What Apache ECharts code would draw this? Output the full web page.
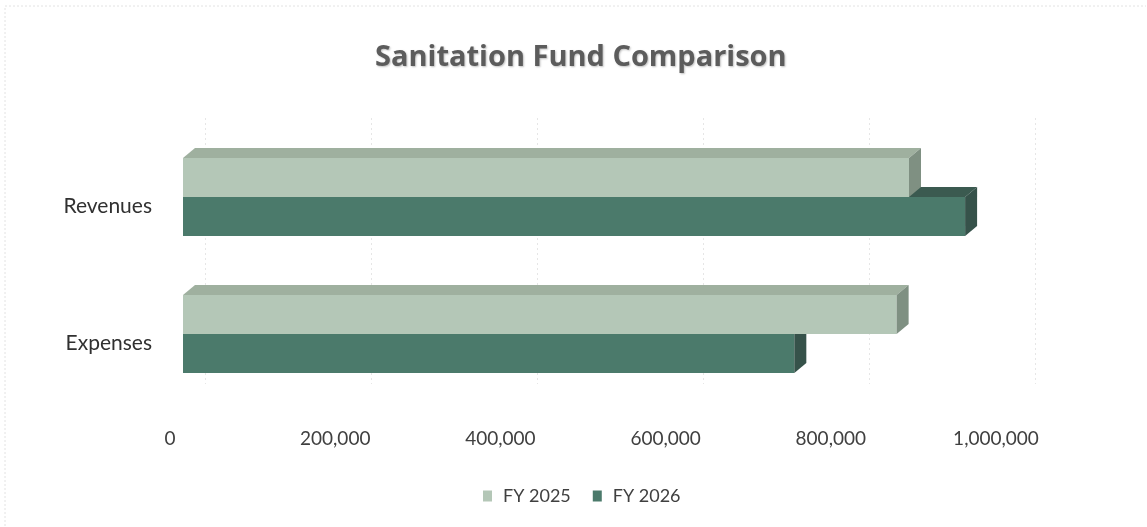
<!DOCTYPE html>
<html>
<head>
<meta charset="utf-8">
<script src="https://cdn.jsdelivr.net/npm/echarts@6/dist/echarts.min.js"></script>
<style>
html,body{margin:0;padding:0;background:#fff;}
#chart{width:1147px;height:527px;}
</style>
</head>
<body>
<div id="chart"></div>
<script>
// ---- data ----
const categories = ['Revenues', 'Expenses'];
const seriesNames = ['FY 2025', 'FY 2026'];
const fy2025 = [880000, 865000];
const fy2026 = [948000, 741000];
const tickValues = [0, 200000, 400000, 600000, 800000, 1000000];

// ---- styling ----
const FONT = 'Lato, "Open Sans", sans-serif';
const DX = 12, DY = -10;          // 3D depth offset (px)
const BAR_FRAC = 0.285;           // bar thickness relative to category band
const colors = {
  'FY 2025': { front: '#b4c7b7', top: '#9fb09f', side: '#7f9082' },
  'FY 2026': { front: '#4b7a6b', top: '#3b5a50', side: '#36524a' }
};

function make3D(name, values, slot) {
  const c = colors[name];
  return {
    name: name,
    type: 'custom',
    xAxisIndex: 0,
    yAxisIndex: 0,
    clip: false,
    itemStyle: { color: c.front },
    encode: { x: 0, y: 1 },
    data: values.map((v, i) => [v, i]),
    renderItem: function (params, api) {
      const v = api.value(0), ci = api.value(1);
      const p0 = api.coord([0, ci]);
      const p1 = api.coord([v, ci]);
      const band = api.size([0, 1])[1];
      const bh = band * BAR_FRAC;
      const y0 = p0[1] - bh + slot * bh;
      const y1 = y0 + bh;
      const x0 = p0[0], x1 = p1[0];
      return {
        type: 'group',
        children: [
          { type: 'polygon', shape: { points: [[x0, y0], [x1, y0], [x1 + DX, y0 + DY], [x0 + DX, y0 + DY]] },
            style: { fill: c.top } },
          { type: 'rect', shape: { x: x0, y: y0, width: x1 - x0, height: bh },
            style: { fill: c.front } },
          { type: 'polygon', shape: { points: [[x1, y0], [x1 + DX, y0 + DY], [x1 + DX, y1 + DY], [x1, y1]] },
            style: { fill: c.side } }
        ]
      };
    }
  };
}

const chart = echarts.init(document.getElementById('chart'), null, { renderer: 'canvas' });
const fmt = v => Number(v).toLocaleString('en-US');

chart.setOption({
  backgroundColor: '#ffffff',
  animation: false,
  title: {
    text: 'Sanitation Fund Comparison',
    left: 370,
    top: 38,
    textStyle: {
      fontFamily: '"Open Sans", Lato, sans-serif', fontWeight: 'bold', fontSize: 29, color: '#5c5c5c',
      textShadowColor: 'rgba(0,0,0,0.25)', textShadowBlur: 2, textShadowOffsetX: 1, textShadowOffsetY: 1
    }
  },
  legend: {
    data: seriesNames,
    top: 487,
    left: 483,
    padding: 0,
    itemWidth: 9,
    itemHeight: 11,
    itemGap: 22,
    icon: 'rect',
    textStyle: { fontFamily: FONT, fontSize: 18, color: '#404040', padding: [0, 0, 0, 6] }
  },
  grid: [
    { left: 183, width: 825, top: 128.5, height: 274 },   // bars (front plane)
    { left: 170, width: 826, top: 137.5, height: 274 },   // labels (front floor edge)
    { left: 205, width: 830, top: 118, height: 266 }      // back wall gridlines
  ],
  xAxis: [
    { gridIndex: 0, type: 'value', min: 0, max: 1000000, show: false },
    { gridIndex: 1, type: 'value', min: 0, max: 1000000, interval: 200000,
      axisLine: { show: false }, axisTick: { show: false }, splitLine: { show: false },
      axisLabel: { margin: 18, fontFamily: FONT, fontSize: 19, color: '#404040', formatter: fmt } },
    { gridIndex: 2, type: 'value', min: 0, max: 1000000, interval: 200000,
      axisLine: { show: false }, axisTick: { show: false }, axisLabel: { show: false },
      splitLine: { show: true, lineStyle: { color: '#e6e6e6', type: [2, 3], width: 1 } } }
  ],
  yAxis: [
    { gridIndex: 0, type: 'category', data: categories, inverse: true, show: false },
    { gridIndex: 1, type: 'category', data: categories, inverse: true,
      axisLine: { show: false }, axisTick: { show: false },
      axisLabel: { margin: 18, fontFamily: FONT, fontSize: 21, color: '#303030' } },
    { gridIndex: 2, type: 'category', data: categories, inverse: true, show: false }
  ],
  graphic: [
    { type: 'polyline', shape: { points: [[5, 526], [5, 6], [1146, 6]] },
      style: { stroke: '#e2e2e2', lineWidth: 1, lineDash: [2, 2], fill: null }, silent: true }
  ],
  series: [
    make3D('FY 2026', fy2026, 1),
    make3D('FY 2025', fy2025, 0)
  ]
});
</script>
</body>
</html>
